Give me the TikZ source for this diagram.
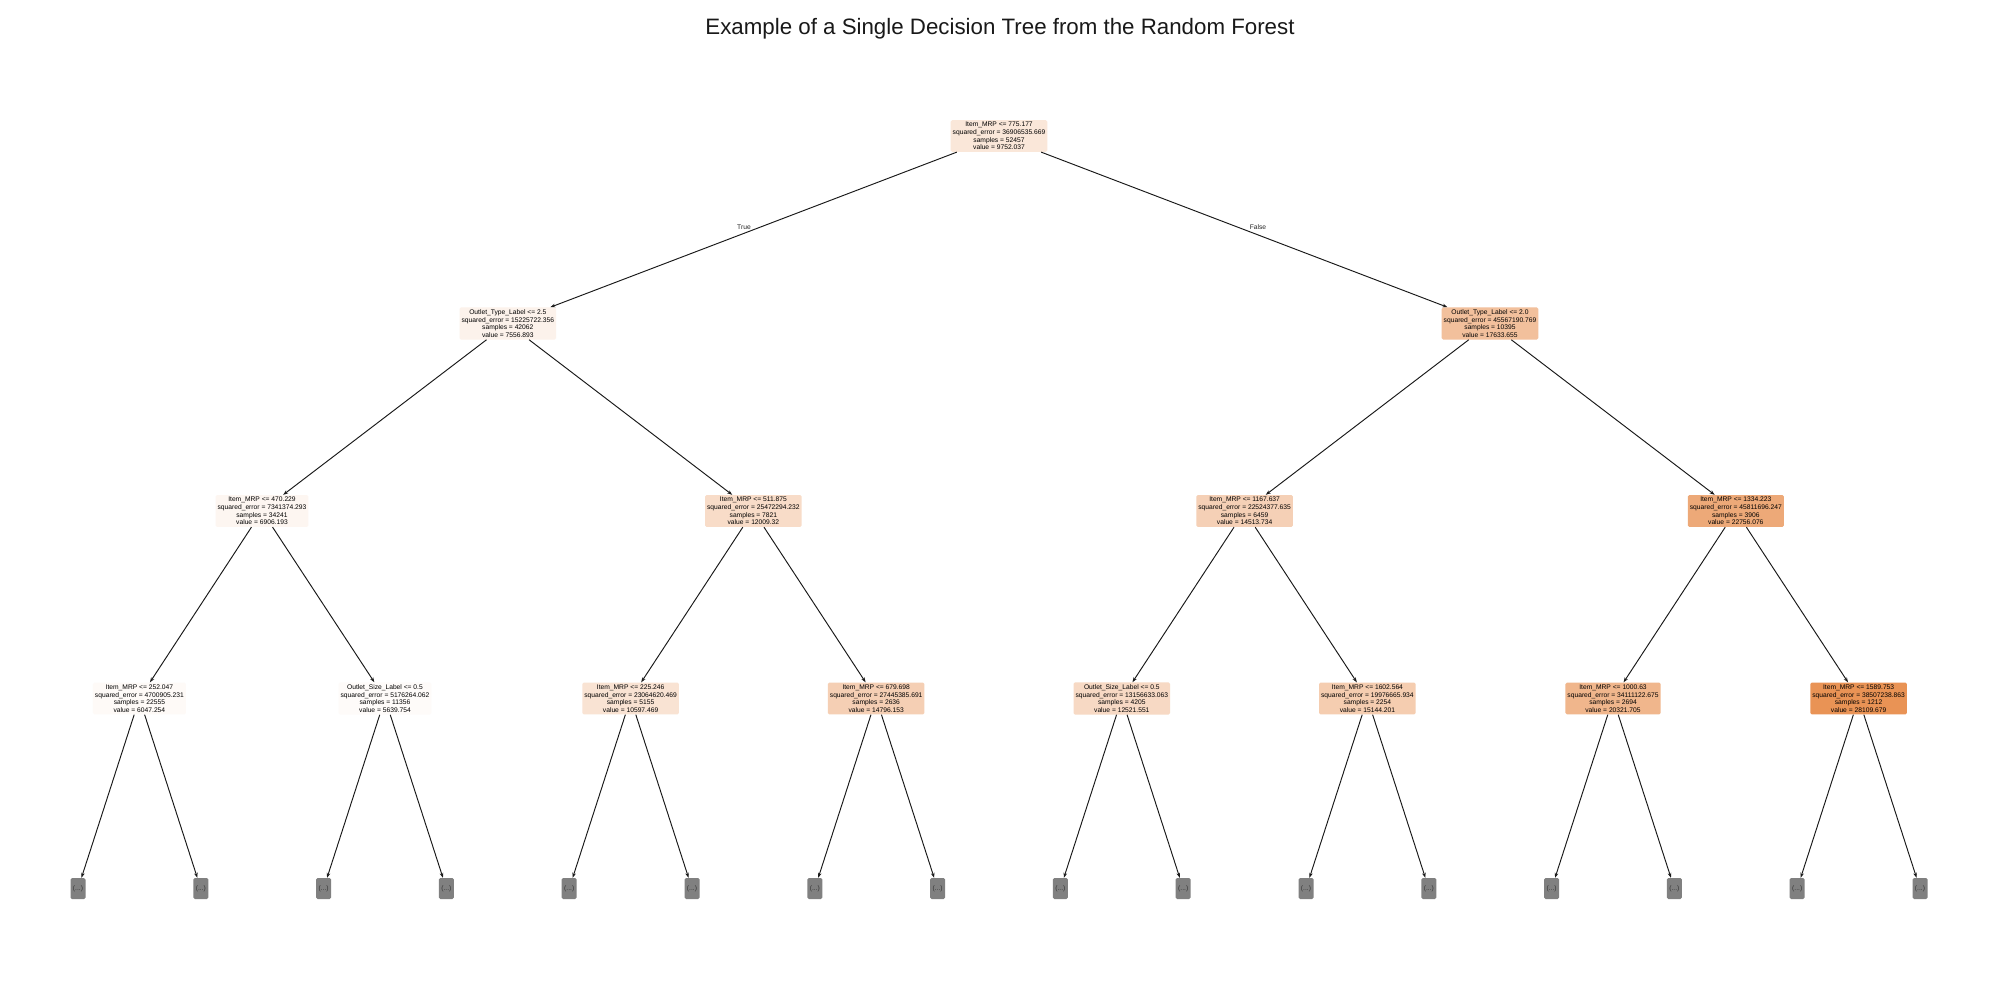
\documentclass[tikz,border=0pt]{standalone}
\usepackage{fontspec}
\setmainfont{Liberation Sans}
\usetikzlibrary{arrows.meta}
\definecolor{tb}{RGB}{229,129,57}
\definecolor{leafgray}{RGB}{128,128,128}
\begin{document}
\begin{tikzpicture}[x=1pt,y=-1pt,
  tnode/.style={rectangle, rounded corners=1.5pt, inner xsep=2pt, inner ysep=2.2pt, align=center, font=\fontsize{6.7}{7.6}\selectfont},
  leafbox/.style={rectangle, rounded corners=1.5pt, fill=leafgray, minimum width=15pt, minimum height=21pt, inner sep=1pt, font=\fontsize{6.7}{7.6}\selectfont, text=black!80},
  edge/.style={draw=black!90, line width=0.95pt, -{Stealth[length=5pt,width=3.6pt]}},
  elabel/.style={font=\fontsize{6.7}{7.6}\selectfont, text=black!85}
]
\useasboundingbox (0,0) rectangle (2000,1000);
\fill[white] (0,0) rectangle (2000,1000);

\node[font=\fontsize{22.3}{26}\selectfont, text=black!90] (title) at (1000,28.5) {Example of a Single Decision Tree from the Random Forest};

% root
\node[tnode, fill=tb!19] (n0) at (999,136) {Item\_MRP <= 775.177\\squared\_error = 36906535.669\\samples = 52457\\value = 9752.037};
% depth 1
\node[tnode, fill=tb!10] (n1) at (507.8,323.5) {Outlet\_Type\_Label <= 2.5\\squared\_error = 15225722.356\\samples = 42062\\value = 7556.893};
\node[tnode, fill=tb!50] (n2) at (1490,323.5) {Outlet\_Type\_Label <= 2.0\\squared\_error = 45567190.769\\samples = 10395\\value = 17633.655};
% depth 2
\node[tnode, fill=tb!7] (n3) at (262,511) {Item\_MRP <= 470.229\\squared\_error = 7341374.293\\samples = 34241\\value = 6906.193};
\node[tnode, fill=tb!28] (n4) at (753.4,511) {Item\_MRP <= 511.875\\squared\_error = 25472294.232\\samples = 7821\\value = 12009.32};
\node[tnode, fill=tb!37] (n5) at (1244.6,511) {Item\_MRP <= 1167.637\\squared\_error = 22524377.635\\samples = 6459\\value = 14513.734};
\node[tnode, fill=tb!68] (n6) at (1735.8,511) {Item\_MRP <= 1334.223\\squared\_error = 45811696.247\\samples = 3906\\value = 22756.076};
% depth 3
\node[tnode, fill=tb!4] (n7) at (139.4,698.5) {Item\_MRP <= 252.047\\squared\_error = 4700905.231\\samples = 22555\\value = 6047.254};
\node[tnode, fill=tb!3] (n8) at (385,698.5) {Outlet\_Size\_Label <= 0.5\\squared\_error = 5176264.062\\samples = 11356\\value = 5639.754};
\node[tnode, fill=tb!22] (n9) at (630.6,698.5) {Item\_MRP <= 225.246\\squared\_error = 23064620.469\\samples = 5155\\value = 10597.469};
\node[tnode, fill=tb!38] (n10) at (876.2,698.5) {Item\_MRP <= 679.698\\squared\_error = 27445385.691\\samples = 2636\\value = 14796.153};
\node[tnode, fill=tb!30] (n11) at (1121.8,698.5) {Outlet\_Size\_Label <= 0.5\\squared\_error = 13156633.063\\samples = 4205\\value = 12521.551};
\node[tnode, fill=tb!40] (n12) at (1367.4,698.5) {Item\_MRP <= 1602.564\\squared\_error = 19976665.934\\samples = 2254\\value = 15144.201};
\node[tnode, fill=tb!58] (n13) at (1613,698.5) {Item\_MRP <= 1000.63\\squared\_error = 34111122.675\\samples = 2694\\value = 20321.705};
\node[tnode, fill=tb!86] (n14) at (1858.6,698.5) {Item\_MRP <= 1589.753\\squared\_error = 38507238.863\\samples = 1212\\value = 28109.679};

% leaves
\foreach \k in {0,...,15} {
  \node[leafbox] (l\k) at ({78+122.8*\k},888.5) {(...)};
}

% edges
\draw[edge] (n0) -- (n1);
\draw[edge] (n0) -- (n2);
\draw[edge] (n1) -- (n3);
\draw[edge] (n1) -- (n4);
\draw[edge] (n2) -- (n5);
\draw[edge] (n2) -- (n6);
\draw[edge] (n3) -- (n7);
\draw[edge] (n3) -- (n8);
\draw[edge] (n4) -- (n9);
\draw[edge] (n4) -- (n10);
\draw[edge] (n5) -- (n11);
\draw[edge] (n5) -- (n12);
\draw[edge] (n6) -- (n13);
\draw[edge] (n6) -- (n14);
\foreach \p [evaluate=\p as \a using int(2*(\p-7)), evaluate=\p as \b using int(2*(\p-7)+1)] in {7,...,14} {
  \draw[edge] (n\p) -- (l\a);
  \draw[edge] (n\p) -- (l\b);
}

\node[elabel] (tl) at (744,227) {True};
\node[elabel] (fl) at (1258,227) {False};
\end{tikzpicture}
\end{document}
